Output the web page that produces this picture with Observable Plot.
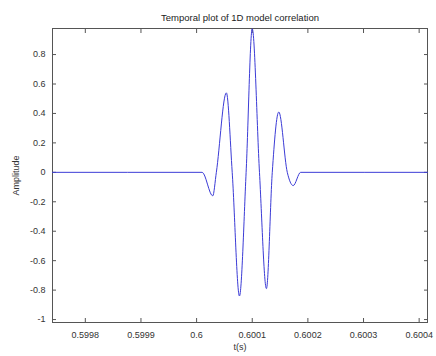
<!DOCTYPE html>
<html>
<head>
<meta charset="utf-8">
<script src="https://cdn.jsdelivr.net/npm/d3@7"></script>
<script src="https://cdn.jsdelivr.net/npm/@observablehq/plot@0.6"></script>
<style>
  html, body { margin: 0; padding: 0; background: #fff; }
  svg { display: block; }
</style>
</head>
<body>
<div id="chart"></div>
<script>
const title = "Temporal plot of 1D model correlation";
const xLabel = "t(s)";
const yLabel = "Amplitude";
const xTicks = [0.5998, 0.5999, 0.6, 0.6001, 0.6002, 0.6003, 0.6004];
const yTicks = [-1, -0.8, -0.6, -0.4, -0.2, 0, 0.2, 0.4, 0.6, 0.8];
const xDomain = [0.599741, 0.600415];
const yDomain = [-1.02, 0.977];

const times = [
  0.599741, 0.600010, 0.600029, 0.6000355, 0.6000535, 0.600064,
  0.600077, 0.600089, 0.6001, 0.600113, 0.6001255, 0.600136,
  0.6001477, 0.600163, 0.6001736, 0.600187, 0.600415
];
const amplitude = [
  0, 0, -0.16, 0, 0.54, 0,
  -0.84, 0, 0.975, 0, -0.79, 0,
  0.41, 0, -0.09, 0, 0
];

const data = times.map((t, i) => ({t, a: amplitude[i]}));
const fmt = d => String(d);
const font = "Liberation Sans, Arial, sans-serif";

const chart = Plot.plot({
  width: 436,
  height: 356,
  marginLeft: 52,
  marginRight: 9,
  marginTop: 28,
  marginBottom: 34,
  style: {fontFamily: font, fontSize: "9px", color: "#333", background: "#fff"},
  x: {domain: xDomain},
  y: {domain: yDomain},
  marks: [
    Plot.frame({stroke: "#555"}),
    Plot.axisX({anchor: "bottom", ticks: xTicks, tickFormat: fmt, tickSize: -4, tickPadding: 13,
      label: xLabel, labelAnchor: "center", labelArrow: false, labelOffset: 27, stroke: "#555"}),
    Plot.axisX({anchor: "top", ticks: xTicks, tickFormat: () => "", tickSize: -4, label: null, stroke: "#555"}),
    Plot.axisY({anchor: "left", ticks: yTicks, tickFormat: fmt, tickSize: -4, tickPadding: 11,
      label: yLabel, labelAnchor: "center", labelArrow: false, labelOffset: 40, stroke: "#555"}),
    Plot.axisY({anchor: "right", ticks: yTicks, tickFormat: () => "", tickSize: -4, label: null, stroke: "#555"}),
    Plot.line(data, {x: "t", y: "a", stroke: "#3b3bd6", strokeWidth: 1, curve: "monotone-x"}),
    Plot.text([title], {frameAnchor: "top", dy: -14, fontSize: 9.5, fill: "#222"})
  ]
});
document.getElementById("chart").appendChild(chart);
</script>
</body>
</html>
